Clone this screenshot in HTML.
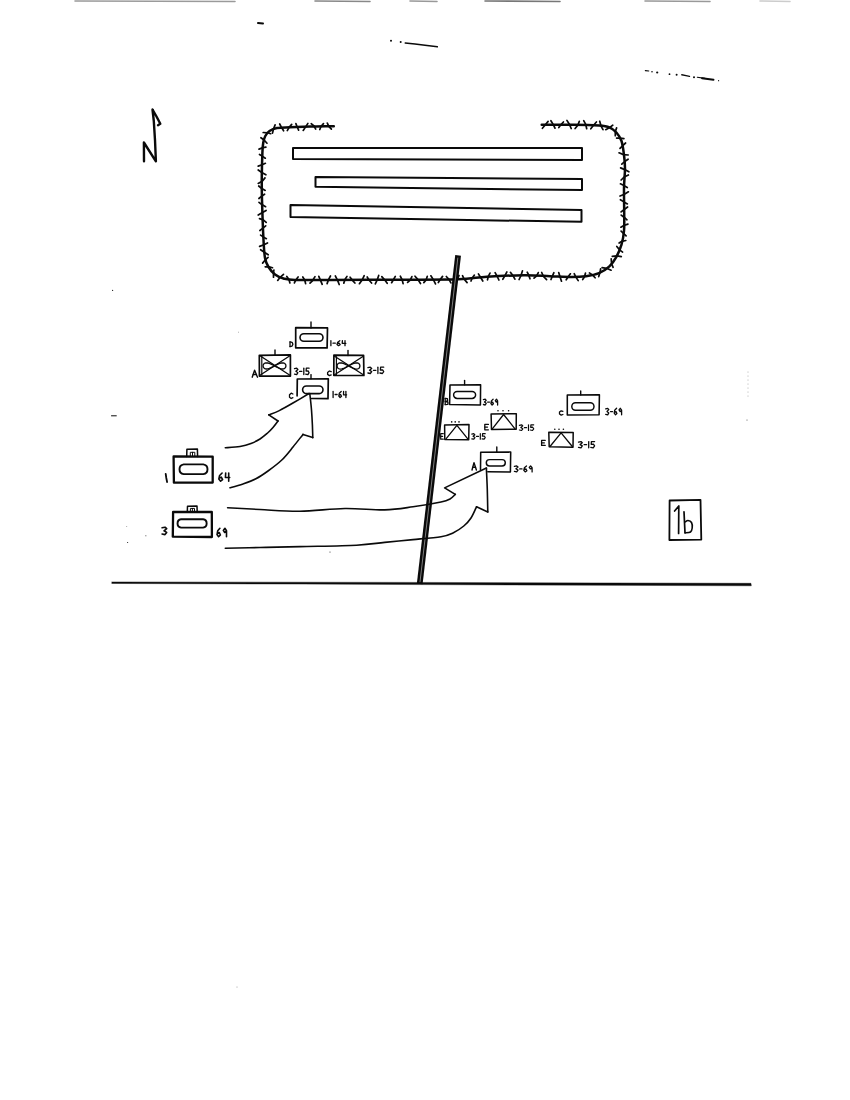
<!DOCTYPE html>
<html><head><meta charset="utf-8"><title>Sketch 1b</title>
<style>
html,body{margin:0;padding:0;background:#fff;}
body{width:850px;height:1100px;overflow:hidden;font-family:"Liberation Sans",sans-serif;}
svg{display:block;}
</style></head><body>
<svg width="850" height="1100" viewBox="0 0 850 1100">
<rect x="0" y="0" width="850" height="1100" fill="#ffffff"/>
<g fill="none" stroke="#0a0a0a" stroke-linecap="round" stroke-linejoin="round">
<path d="M75 1 L235 1.5" stroke="#9a9a9a" stroke-width="1.6"/>
<path d="M315 1 L370 1.5" stroke="#888" stroke-width="1.6"/>
<path d="M410 1 L437 1.5" stroke="#999" stroke-width="1.6"/>
<path d="M485 1 L560 1.5" stroke="#777" stroke-width="1.6"/>
<path d="M645 1 L710 1.5" stroke="#999" stroke-width="1.6"/>
<path d="M760 1 L790 1.5" stroke="#ccc" stroke-width="1.6"/>
<path d="M258 23 L263 23.5" stroke-width="2" />
<path d="M405.2 43 L415 44 L425 45.2 L437.4 46.8" stroke-width="1.4" />
<circle cx="391" cy="40.7" r="1.0" fill="#0a0a0a" stroke="none"/>
<circle cx="400.7" cy="41.9" r="1.0" fill="#0a0a0a" stroke="none"/>
<path d="M645.3 70.6 L648.8 71" stroke-width="1.1" />
<circle cx="652" cy="71.8" r="0.8" fill="#0a0a0a" stroke="none"/>
<circle cx="657.2" cy="72.5" r="1.1" fill="#0a0a0a" stroke="none"/>
<circle cx="669.5" cy="74.2" r="0.9" fill="#0a0a0a" stroke="none"/>
<circle cx="676.6" cy="74.8" r="1.0" fill="#0a0a0a" stroke="none"/>
<circle cx="694" cy="77.3" r="1.0" fill="#0a0a0a" stroke="none"/>
<circle cx="718.6" cy="80.7" r="0.6" fill="#0a0a0a" stroke="none"/>
<path d="M681.8 74.8 L686 75.6 L689.5 76.4" stroke-width="1.4" />
<path d="M697.3 77.2 L705 78.4" stroke-width="1.1" />
<path d="M702 78.2 L713.5 79.8" stroke-width="1.9" />
<circle cx="748" cy="372" r="0.4" fill="#555" stroke="none"/>
<circle cx="748" cy="376" r="0.4" fill="#555" stroke="none"/>
<circle cx="748" cy="380" r="0.4" fill="#555" stroke="none"/>
<circle cx="748" cy="384" r="0.4" fill="#555" stroke="none"/>
<circle cx="748" cy="388" r="0.4" fill="#555" stroke="none"/>
<circle cx="748" cy="392" r="0.4" fill="#555" stroke="none"/>
<circle cx="748" cy="396" r="0.4" fill="#555" stroke="none"/>
<circle cx="747" cy="420" r="0.5" fill="#333" stroke="none"/>
<circle cx="330" cy="552" r="0.6" fill="#333" stroke="none"/>
<circle cx="237" cy="987" r="0.5" fill="#888" stroke="none"/>
<path d="M111.5 415.8 L116.3 415.8" stroke-width="1.0" />
<circle cx="112.6" cy="290.4" r="0.6" fill="#222" stroke="none"/>
<circle cx="238.5" cy="332.1" r="0.4" fill="#222" stroke="none"/>
<circle cx="126.8" cy="526.7" r="0.4" fill="#222" stroke="none"/>
<circle cx="145.9" cy="535.7" r="0.5" fill="#222" stroke="none"/>
<circle cx="127.6" cy="542.5" r="0.6" fill="#222" stroke="none"/>
<path d="M144 161.3 L143.9 142.5 L155.9 161.3 L155 140 L153.8 121 L152.5 109.5 L156.5 116.5 L160.3 123.8 L158 125.2" stroke-width="2.4" />
<path d="M333.8 126.2 C329.8 126.3 317.3 126.4 310 126.6 C302.7 126.8 295.5 127.1 290 127.3 C284.5 127.5 280.4 127.4 277 128 C273.6 128.6 271.4 129.7 269.5 131 C267.6 132.3 266.4 134 265.3 136 C264.2 138 263.7 140.2 263.2 143 C262.7 145.8 262.6 147 262.4 152.5 C262.2 158 261.9 168.1 261.8 176 C261.7 183.9 261.7 189.3 262 200 C262.3 210.7 263 230.3 263.5 240 C264 249.7 264.2 253.5 265 258 C265.8 262.5 266.8 264.2 268.5 267 C270.2 269.8 272.5 272.6 275 274.5 C277.5 276.4 280.2 277.6 283.5 278.5 C286.8 279.4 287.2 279.8 295 280 C302.8 280.2 312.5 280.1 330 280 C347.5 279.9 378.7 279.8 400 279.7 C421.3 279.6 443.5 279.8 458 279.3 C472.5 278.8 476 277.4 487 276.7 C498 276 513.5 275.4 524 275.3 C534.5 275.2 542 275.9 550 276.2 C558 276.5 566 277 572 277 C578 277 581.5 276.8 586 276.2 C590.5 275.6 595.1 274.8 599 273.2 C602.9 271.6 606.5 269 609.4 266.3 C612.3 263.6 614.4 260.4 616.4 256.8 C618.4 253.2 620.2 249 621.5 244.7 C622.8 240.4 623.5 236.3 624 231 C624.5 225.7 624.2 220.2 624.2 213 C624.2 205.8 623.9 195.4 624 188 C624.1 180.6 625 174.2 625 168.7 C625 163.2 624.6 159.6 624 155 C623.4 150.4 622.8 144.8 621.5 141 C620.2 137.2 618.4 134.8 616.4 132.5 C614.4 130.2 612.3 128.5 609.4 127.3 C606.5 126.1 605.1 125.9 599 125.5 C592.9 125.1 582.5 124.8 573 124.7 C563.5 124.6 546.9 124.7 541.7 124.7" stroke-width="2.5" />
<path d="M331.4 129.1 L328.8 126.3 L327.3 123.1" stroke-width="1.7" />
<path d="M323.5 123.6 L321.1 126.3 L319.8 129.5" stroke-width="1.7" />
<path d="M315.7 129.1 L314 126 L311.2 123.7" stroke-width="1.7" />
<path d="M307.9 123.4 L305.8 126.6 L303.2 130.4" stroke-width="1.7" />
<path d="M298.6 130.1 L297 126.5 L295.9 123.6" stroke-width="1.7" />
<path d="M291.7 124.4 L289.1 127.4 L287.3 130.6" stroke-width="1.7" />
<path d="M283.6 130.8 L281.2 126.9 L279.7 124" stroke-width="1.7" />
<path d="M275.1 124.9 L273.6 128.9 L272.5 133.1" stroke-width="1.7" />
<path d="M270.7 133.7 L267.4 132.8 L263.2 132.5" stroke-width="1.7" />
<path d="M260.9 137.7 L264.1 140 L267 143.2" stroke-width="1.7" />
<path d="M265.9 147.1 L263 147.6 L259 149.1" stroke-width="1.7" />
<path d="M259.5 154.5 L262.6 156.4 L265.3 158.2" stroke-width="1.7" />
<path d="M265.4 163.3 L262.1 164.7 L258.2 166.1" stroke-width="1.7" />
<path d="M258.2 170 L261.8 172.5 L265.9 174.8" stroke-width="1.7" />
<path d="M265 177.9 L262.5 181 L258.2 183.4" stroke-width="1.7" />
<path d="M258.7 186 L261.1 188 L265.2 190.4" stroke-width="1.7" />
<path d="M264.6 194.2 L262.3 195.7 L258.9 198.5" stroke-width="1.7" />
<path d="M259 202.3 L261.5 204.3 L265.6 206.7" stroke-width="1.7" />
<path d="M266.1 210.4 L262.9 212.3 L258.2 215.1" stroke-width="1.7" />
<path d="M259.5 218.6 L263.3 219.9 L266.2 222.4" stroke-width="1.7" />
<path d="M265.7 225.8 L262.9 228.2 L259.9 230.5" stroke-width="1.7" />
<path d="M260.6 235.1 L263.2 236.9 L266.4 238.7" stroke-width="1.7" />
<path d="M267.5 242.9 L263.9 244.8 L259.6 246.4" stroke-width="1.7" />
<path d="M260.6 249.7 L264.7 252.5 L268.2 254.8" stroke-width="1.7" />
<path d="M268.1 257.4 L265.6 259.5 L262.6 263.1" stroke-width="1.7" />
<path d="M265.2 266.8 L268.4 266.6 L272.5 267.7" stroke-width="1.7" />
<path d="M273.9 270 L273.5 272.8 L273.5 277.2" stroke-width="1.7" />
<path d="M277.7 280.4 L280.1 277.3 L283.5 274.3" stroke-width="1.7" />
<path d="M286.8 276.5 L289 279.6 L289.9 283" stroke-width="1.7" />
<path d="M294.4 282.9 L296 279.7 L298.1 276.9" stroke-width="1.7" />
<path d="M302.8 277 L304.8 280.2 L305.6 283.6" stroke-width="1.7" />
<path d="M310 283.2 L312.4 280.8 L315 276.6" stroke-width="1.7" />
<path d="M318.8 276.3 L320.2 279.6 L322.2 284.3" stroke-width="1.7" />
<path d="M327.1 283.6 L328.5 279.6 L330.5 276" stroke-width="1.7" />
<path d="M335.3 275.9 L337.6 280.4 L339.2 284.5" stroke-width="1.7" />
<path d="M343.8 283.1 L345.1 279.3 L347 276.4" stroke-width="1.7" />
<path d="M350.1 277.2 L352.7 280.6 L354.9 283" stroke-width="1.7" />
<path d="M359.4 283.7 L362.3 279.7 L364.2 275.7" stroke-width="1.7" />
<path d="M367.2 277 L368.9 280 L371.6 283" stroke-width="1.7" />
<path d="M375.3 283.8 L377.1 280.2 L378.7 275.4" stroke-width="1.7" />
<path d="M381.8 276.6 L384.8 280.1 L387.2 283.3" stroke-width="1.7" />
<path d="M391.6 282.7 L393.1 280.2 L395.3 276.4" stroke-width="1.7" />
<path d="M400.3 276.2 L402.2 280 L403.1 283.6" stroke-width="1.7" />
<path d="M407.6 282.4 L410.2 280.1 L411.9 276.6" stroke-width="1.7" />
<path d="M415 276.2 L417.8 279.4 L420.5 283.5" stroke-width="1.7" />
<path d="M423.8 282.6 L426.1 279.9 L427.3 276.3" stroke-width="1.7" />
<path d="M430.9 275.8 L433.6 280.1 L435.5 283.9" stroke-width="1.7" />
<path d="M438.3 282.5 L440 279.7 L442.6 276.4" stroke-width="1.7" />
<path d="M446.3 276.5 L449 279.3 L450.9 282.9" stroke-width="1.7" />
<path d="M455 282.8 L456.8 279.9 L459 275.5" stroke-width="1.7" />
<path d="M462.5 275.7 L464 278.9 L467.1 282.6" stroke-width="1.7" />
<path d="M471 281 L472.1 278.2 L474.4 275.1" stroke-width="1.7" />
<path d="M478.4 273.9 L480.5 277.3 L482.8 281" stroke-width="1.7" />
<path d="M487.5 279.8 L488.3 276.3 L490 273.1" stroke-width="1.7" />
<path d="M495.1 272.7 L497.3 276.7 L498.9 280" stroke-width="1.7" />
<path d="M502.8 279.3 L504.7 276.1 L506.9 271.9" stroke-width="1.7" />
<path d="M510.4 272.3 L513.1 275.8 L514.9 279.2" stroke-width="1.7" />
<path d="M519.1 279.5 L520.8 276 L522.5 270.8" stroke-width="1.7" />
<path d="M527.2 272.2 L528.5 274.7 L530 278.8" stroke-width="1.7" />
<path d="M534 278.2 L536.4 276.1 L538.3 272.6" stroke-width="1.7" />
<path d="M541.7 272.5 L543.5 276.5 L546.6 279.7" stroke-width="1.7" />
<path d="M551 279.5 L552.3 276.3 L553.9 272.7" stroke-width="1.7" />
<path d="M558.7 272.5 L560 276.7 L561.5 281.2" stroke-width="1.7" />
<path d="M566.2 279.8 L568.5 276.3 L570.4 273.8" stroke-width="1.7" />
<path d="M574.2 273.7 L575.9 277.1 L578.2 280.6" stroke-width="1.7" />
<path d="M582.7 279.5 L584.4 277.1 L585.5 273.1" stroke-width="1.7" />
<path d="M589.4 272.9 L592.5 274.9 L595.1 277.8" stroke-width="1.7" />
<path d="M598.7 276.6 L600 272.6 L600.6 268.9" stroke-width="1.7" />
<path d="M602.1 267.7 L606.6 268.3 L611.1 270.2" stroke-width="1.7" />
<path d="M613.1 267.3 L611.6 263.9 L611.2 258.8" stroke-width="1.7" />
<path d="M612.3 256.4 L617 255.9 L621.3 256.7" stroke-width="1.7" />
<path d="M622.6 252.1 L619.9 250.1 L616.8 246.5" stroke-width="1.7" />
<path d="M619.1 243 L621.9 241.3 L625.8 240.5" stroke-width="1.7" />
<path d="M626.1 235.9 L623.5 233.4 L621.1 231.1" stroke-width="1.7" />
<path d="M620.9 227.2 L623.8 225.5 L627.9 224.1" stroke-width="1.7" />
<path d="M627 219.8 L624.6 217.7 L621.2 215.1" stroke-width="1.7" />
<path d="M621.1 211.9 L623.6 210 L627.6 207" stroke-width="1.7" />
<path d="M627.4 203.9 L623.9 201.9 L620.4 199.7" stroke-width="1.7" />
<path d="M620 196 L624.4 194.3 L628.4 191.8" stroke-width="1.7" />
<path d="M627.3 187.6 L623.4 185.3 L620.4 183.8" stroke-width="1.7" />
<path d="M621.1 180 L624.1 177.1 L628.4 175" stroke-width="1.7" />
<path d="M628.9 171.8 L624.7 169.6 L620.6 167.9" stroke-width="1.7" />
<path d="M621.8 164.2 L624.7 161.5 L628.1 159.2" stroke-width="1.7" />
<path d="M628.2 155 L623.5 154.6 L619 152.8" stroke-width="1.7" />
<path d="M620 148.4 L622.5 145.8 L625.6 143" stroke-width="1.7" />
<path d="M623.9 138.7 L619.8 138.1 L616.6 138.1" stroke-width="1.7" />
<path d="M615.3 135.7 L615.3 131.7 L616.6 127.9" stroke-width="1.7" />
<path d="M612.8 125.2 L609.8 127.5 L605.7 129.7" stroke-width="1.7" />
<path d="M603 129.7 L601.2 126.4 L599.7 121.2" stroke-width="1.7" />
<path d="M596.4 122 L593.1 125.7 L590.8 128.8" stroke-width="1.7" />
<path d="M586.7 128.7 L585.7 124.4 L583.7 120.7" stroke-width="1.7" />
<path d="M579.3 121.4 L577.8 125.2 L575.1 128.5" stroke-width="1.7" />
<path d="M571.2 128.5 L569.4 124.3 L566.9 120.4" stroke-width="1.7" />
<path d="M563.4 122 L560.6 125.1 L558.8 127.6" stroke-width="1.7" />
<path d="M555 128.2 L553.3 124.6 L550.9 120.7" stroke-width="1.7" />
<path d="M548.1 121.4 L545.4 124.7 L542.4 128.3" stroke-width="1.7" />
<path d="M293 148 L582 148 L582 160 L293 159 Z" stroke-width="2.0" />
<path d="M315.5 177 L450 178 L582 179 L582 190 L450 188.5 L315.5 186.8 Z" stroke-width="2.0" />
<path d="M290.5 205 L440 207.5 L581.5 210 L581.5 221.8 L440 219.5 L290.5 217 Z" stroke-width="2.0" />
<path d="M458.1 255.3 L419.7 584" stroke-width="5.8" stroke-linecap="butt"/>
<path d="M457.8 258 L420 582" stroke="#8c8c8c" stroke-width="0.9"/>
<path d="M112 581.9 L300 582.2 L420 582.4 L600 582.9 L751 583.3 L751.3 585.8 L600 585.3 L420 584.6 L300 584.1 L112 583.5 Z" fill="#0a0a0a" stroke-width="0.4"/>
<path d="M669.6 500.5 L700.5 499.8 L701.3 539.6 L669.4 540 Z" stroke-width="1.8" />
<path d="M674.6 511 L678.8 506 L678.6 533.5" stroke-width="1.7" />
<path d="M684 511.8 L685 533" stroke-width="1.7" />
<path d="M685 522 C685.5 521.8 686.9 520.4 688 520.5 C689.1 520.6 690.8 521.2 691.5 522.5 C692.2 523.8 692.4 526.4 692.2 528 C692 529.6 691.7 531.2 690.5 532 C689.3 532.8 686.1 532.7 685.2 532.8" stroke-width="1.6" />
<path d="M295.7 327.7 L327.5 327.9 L327.1 347.9 L295.7 347.8 Z" stroke-width="1.7" />
<path d="M311 322 L311 328" stroke-width="1.4" />
<path d="M303.8 333.7 L319.2 333.7 A3.8 3.8 0 0 1 319.2 341.3 L303.8 341.3 A3.8 3.8 0 0 1 303.8 333.7 Z" stroke-width="1.5999999999999999"/>
<path d="M290 341.8 L290 346.6" stroke-width="1.3" />
<path d="M290 341.8 L292.1 342.3 L292.9 344.2 L292.1 346.1 L290 346.6" stroke-width="1.3" />
<path d="M330.9 340.7 L330.9 345.7" stroke-width="1.3" />
<path d="M333 343.2 L335.3 343.2" stroke-width="1.3" />
<path d="M339.8 340.7 L337.7 342.2 L337 344.4 L338.5 345.7 L340.2 344.7 L339.1 343.2 L337.2 343.9" stroke-width="1.3" />
<path d="M342.4 340.7 L342.2 343.4 L345.8 343.4" stroke-width="1.3" />
<path d="M345 340.7 L345 345.7" stroke-width="1.3" />
<path d="M259.3 355.3 L290.4 354.9 L290.4 376.1 L259.4 376.1 Z" stroke-width="1.7" />
<path d="M261.8 356 L261.8 375" stroke-width="1.2" />
<path d="M275 350 L275 355" stroke-width="1.4" />
<path d="M260 355.8 L289.9 375.2" stroke-width="1.3" />
<path d="M260 375.2 L289.9 355.8" stroke-width="1.3" />
<path d="M274.5 365.9 L276.3 366.9 L278 367.7 L279.7 368.4 L281.2 368.8 L282.6 369 L283.7 368.8 L284.7 368.4 L285.3 367.7 L285.8 366.9 L285.9 365.9 L285.8 364.9 L285.3 364.1 L284.7 363.4 L283.7 363 L282.6 362.8 L281.2 363 L279.7 363.4 L278 364.1 L276.3 364.9 L274.5 365.9 L272.7 366.9 L271 367.7 L269.3 368.4 L267.8 368.8 L266.4 369 L265.3 368.8 L264.3 368.4 L263.7 367.7 L263.2 366.9 L263.1 365.9 L263.2 364.9 L263.7 364.1 L264.3 363.4 L265.3 363 L266.4 362.8 L267.8 363 L269.3 363.4 L271 364.1 L272.7 364.9 L274.5 365.9" stroke-width="1.3"/>
<path d="M252.2 377.2 L254.6 370.2 L257.5 377.2" stroke-width="1.4" />
<path d="M253.3 374.5 L256.4 374.5" stroke-width="1.4" />
<path d="M294.5 368.7 L296.7 368.2 L297.9 369.5 L295.9 371.3 L297.9 372.7 L296.7 374.6 L294.5 374.1" stroke-width="1.3" />
<path d="M299.6 371.4 L301.8 371.4" stroke-width="1.3" />
<path d="M303.8 368.2 L303.8 374.6" stroke-width="1.3" />
<path d="M309.1 368.2 L306.3 368.2 L306.1 371.1 L308.1 370.9 L309.1 372.7 L307.9 374.6 L305.7 374.1" stroke-width="1.3" />
<path d="M333.9 355.2 L363.6 355.4 L363.9 375.5 L333.8 375.3 Z" stroke-width="1.7" />
<path d="M336.4 356.5 L336.4 374.6" stroke-width="1.2" />
<path d="M348 350.5 L348 355.5" stroke-width="1.4" />
<path d="M334.6 356.3 L363.3 374.8" stroke-width="1.3" />
<path d="M334.6 374.8 L363.3 356.3" stroke-width="1.3" />
<path d="M348.5 365.9 L350.3 366.9 L352 367.8 L353.7 368.5 L355.2 368.9 L356.6 369.1 L357.7 368.9 L358.7 368.5 L359.3 367.8 L359.8 366.9 L359.9 365.9 L359.8 365 L359.3 364.1 L358.7 363.4 L357.7 363 L356.6 362.8 L355.2 363 L353.7 363.4 L352 364.1 L350.3 365 L348.5 365.9 L346.7 366.9 L345 367.8 L343.3 368.5 L341.8 368.9 L340.4 369.1 L339.3 368.9 L338.3 368.5 L337.7 367.8 L337.2 366.9 L337.1 365.9 L337.2 365 L337.7 364.1 L338.3 363.4 L339.3 363 L340.4 362.8 L341.8 363 L343.3 363.4 L345 364.1 L346.7 365 L348.5 365.9" stroke-width="1.3"/>
<path d="M331.2 371.7 L329.4 371 L327.6 372.4 L327.6 374.4 L329.4 375.6 L331.2 374.9" stroke-width="1.3" />
<path d="M367.9 367.7 L370.3 367.2 L371.7 368.5 L369.5 370.2 L371.7 371.6 L370.3 373.5 L367.9 373" stroke-width="1.3" />
<path d="M373.4 370.3 L375.9 370.3" stroke-width="1.3" />
<path d="M377.9 367.2 L377.9 373.5" stroke-width="1.3" />
<path d="M383.7 367.2 L380.6 367.2 L380.4 370 L382.6 369.8 L383.7 371.6 L382.4 373.5 L379.9 373" stroke-width="1.3" />
<path d="M311.5 398.5 L328 398.7 L328.3 378.8 L297.3 379 L297.1 395.8" stroke-width="1.7" />
<path d="M311 374.6 L311 378.8" stroke-width="1.4" />
<path d="M306.4 386 L319.2 386 A3.8 3.8 0 0 1 319.2 393.6 L306.4 393.6 A3.8 3.8 0 0 1 306.4 386 Z" stroke-width="1.5999999999999999"/>
<path d="M292.9 394 L291.2 393.2 L289.5 394.8 L289.5 397.2 L291.2 398.5 L292.9 397.7" stroke-width="1.3" />
<path d="M333.1 391.5 L333.1 397.5" stroke-width="1.3" />
<path d="M335.1 394.5 L337.1 394.5" stroke-width="1.3" />
<path d="M341.2 391.5 L339.3 393.3 L338.8 396 L340.1 397.5 L341.5 396.3 L340.6 394.5 L338.9 395.4" stroke-width="1.3" />
<path d="M343.6 391.5 L343.5 394.8 L346.6 394.8" stroke-width="1.3" />
<path d="M345.9 391.5 L345.9 397.5" stroke-width="1.3" />
<path d="M173.6 456.5 L212.7 456.7 L212.7 482.6 L173.9 482.7 Z" stroke-width="2.3" />
<path d="M183.7 464.4 L203.3 464.4 A4.9 4.9 0 0 1 203.3 474.1 L183.7 474.1 A4.9 4.9 0 0 1 183.7 464.4 Z" stroke-width="1.9"/>
<path d="M186.7 456.5 L186.9 449.2 L197.4 449 L197.6 456.5" stroke-width="1.5" />
<path d="M190.3 456 L190.3 452.3 L194.8 452.3 L194.8 456" stroke-width="1.0" />
<path d="M192.5 452.3 L192.5 456" stroke-width="1.0" />
<path d="M165.7 473.8 L166.3 478 L167.1 482" stroke-width="1.8" />
<path d="M222.1 473 L219.6 475.5 L218.8 479.1 L220.6 481.2 L222.6 479.6 L221.3 477.1 L219.1 478.3" stroke-width="1.6" />
<path d="M225.7 473 L225.4 477.5 L229.7 477.5" stroke-width="1.6" />
<path d="M228.7 473 L228.7 481.2" stroke-width="1.6" />
<path d="M173.1 512 L211.8 512 L211.9 537 L172.8 536.7 Z" stroke-width="2.3" />
<path d="M181.1 519.3 L203.1 519.3 A4.2 4.2 0 0 1 203.1 527.6 L181.1 527.6 A4.2 4.2 0 0 1 181.1 519.3 Z" stroke-width="1.9"/>
<path d="M187.3 512 L187.5 506.2 L197 506 L197.2 512" stroke-width="1.5" />
<path d="M190.4 511.6 L190.4 508.4 L194.5 508.4 L194.5 511.6" stroke-width="1.0" />
<path d="M192.4 508.4 L192.4 511.6" stroke-width="1.0" />
<path d="M162.1 527.8 L165 527.2 L166.7 528.7 L164 530.8 L166.7 532.4 L165 534.6 L162.1 534" stroke-width="1.6" />
<path d="M219.9 528.3 L217.7 530.8 L217 534.6 L218.6 536.7 L220.4 535 L219.3 532.5 L217.2 533.8" stroke-width="1.6" />
<path d="M226.5 530.8 L224.9 528.3 L223.3 530.4 L224.7 532.5 L226.5 530.8 L226.5 536.7" stroke-width="1.6" />
<path d="M225.3 447.8 C227.8 447.6 235.7 447.2 240 446.5 C244.3 445.8 247.7 444.8 251 443.5 C254.3 442.2 257.2 440.8 260 439 C262.8 437.2 265.4 434.9 267.6 433 C269.8 431.1 271.3 429.5 273 427.5 C274.7 425.5 277.2 422.1 278 421" stroke-width="1.6" />
<path d="M278 421 L268.8 414.8" stroke-width="1.6" />
<path d="M268.8 414.8 C270.6 414.1 275.2 412.6 279.3 410.6 C283.4 408.6 288.4 405.7 293.4 402.8 C298.3 399.9 306.4 395.1 309 393.5" stroke-width="1.6" />
<path d="M309.8 393.6 C310.1 396.3 311.1 404.8 311.5 410 C311.9 415.2 312.2 420.4 312.4 425 C312.6 429.6 312.7 435.5 312.8 437.6" stroke-width="1.6" />
<path d="M312.8 437.6 L303 434.4" stroke-width="1.6" />
<path d="M303 434.4 C301.3 436.5 296.5 442.7 293 447 C289.5 451.3 286 456 281.8 460 C277.6 464 272.3 467.9 268 471 C263.7 474.1 260.1 476.6 255.9 478.8 C251.7 481 247.3 482.5 243 484 C238.7 485.5 232.2 487.2 230 487.8" stroke-width="1.6" />
<path d="M227.6 507.8 C233 508.1 247.9 508.9 260 509.5 C272.1 510.1 285.8 511.5 300 511.3 C314.2 511.1 330.9 508.7 345 508.5 C359.1 508.3 373.4 510.2 384.7 509.9 C396 509.6 403.6 508.1 413 506.8 C422.4 505.5 434.8 503.3 441 502 C447.2 500.7 447.6 500.3 450 499 C452.4 497.7 454.4 495.2 455.3 494.4" stroke-width="1.6" />
<path d="M455.3 494.4 L444.6 487.9 L486.4 468" stroke-width="1.6" />
<path d="M486.4 468 C486.5 471.7 487.1 482.7 487.3 490 C487.5 497.3 487.7 508.2 487.8 511.9" stroke-width="1.6" />
<path d="M487.8 511.9 L476.5 506.8" stroke-width="1.6" />
<path d="M476.5 506.8 C475.6 508.7 473.1 514.8 471 518 C468.9 521.2 466.8 523.5 463.8 526 C460.8 528.5 456.8 531.2 453 533 C449.2 534.8 447.7 535.6 441 536.7 C434.3 537.8 422.4 538.7 413 539.6 C403.6 540.5 394.1 541.5 384.7 542.4 C375.3 543.3 370.6 544.5 356.5 545.2 C342.4 545.9 316.1 546.2 300 546.6 C283.9 547 272.4 547.2 260 547.5 C247.6 547.8 231.1 548.1 225.3 548.2" stroke-width="1.6" />
<path d="M450 385.1 L480.6 384.7 L480.4 404.9 L449.6 404.6 Z" stroke-width="1.55" />
<path d="M464.6 380.4 L464.6 384.8" stroke-width="1.4" />
<path d="M457.1 391.4 L472.1 391.4 A3.5 3.5 0 0 1 472.1 398.4 L457.1 398.4 A3.5 3.5 0 0 1 457.1 391.4 Z" stroke-width="1.45"/>
<path d="M445.2 398.4 L445.2 404.6" stroke-width="1.3" />
<path d="M445.2 398.4 L447.4 398.7 L447.6 400.9 L445.2 401.5 L447.9 402.1 L447.9 404.3 L445.2 404.6" stroke-width="1.3" />
<path d="M483.4 399.7 L485.2 399.2 L486.2 400.4 L484.5 402 L486.2 403.3 L485.2 405 L483.4 404.5" stroke-width="1.3" />
<path d="M487.6 402.1 L489.5 402.1" stroke-width="1.3" />
<path d="M493.1 399.2 L491.4 400.9 L490.9 403.6 L492.1 405 L493.4 403.8 L492.6 402.1 L491.1 403" stroke-width="1.3" />
<path d="M497.6 400.9 L496.5 399.2 L495.3 400.6 L496.3 402.1 L497.6 400.9 L497.6 405" stroke-width="1.3" />
<path d="M491.1 414 L516.3 413.8 L516.2 429.3 L491.5 429.4 Z" stroke-width="1.5" />
<path d="M492.3 428.8 L503.6 414.5 L515 428.8" stroke-width="1.3" />
<circle cx="498" cy="410.8" r="0.8" fill="#0a0a0a" stroke="none"/>
<circle cx="503" cy="410.8" r="0.8" fill="#0a0a0a" stroke="none"/>
<circle cx="508.6" cy="410.8" r="0.8" fill="#0a0a0a" stroke="none"/>
<path d="M488.4 424.4 L484.8 424.4 L484.8 429.8 L488.4 429.8" stroke-width="1.3" />
<path d="M484.8 427.1 L487.5 427.1" stroke-width="1.3" />
<path d="M519.4 425.3 L521.6 424.8 L522.8 425.9 L520.8 427.5 L522.8 428.8 L521.6 430.5 L519.4 430" stroke-width="1.2" />
<path d="M524.4 427.7 L526.6 427.7" stroke-width="1.2" />
<path d="M528.5 424.8 L528.5 430.5" stroke-width="1.2" />
<path d="M533.7 424.8 L530.9 424.8 L530.7 427.4 L532.7 427.2 L533.7 428.8 L532.5 430.5 L530.3 430" stroke-width="1.2" />
<path d="M444.6 425 L469 424.5 L468.7 439.7 L444.8 439.6 Z" stroke-width="1.5" />
<path d="M445.8 439.2 L456.9 425.3 L468 439.2" stroke-width="1.3" />
<circle cx="451.7" cy="421.9" r="0.8" fill="#0a0a0a" stroke="none"/>
<circle cx="455.2" cy="421.9" r="0.8" fill="#0a0a0a" stroke="none"/>
<circle cx="459" cy="421.9" r="0.8" fill="#0a0a0a" stroke="none"/>
<path d="M443.3 433.7 L440.7 433.7 L440.7 439.2 L443.3 439.2" stroke-width="1.2" />
<path d="M440.7 436.4 L442.6 436.4" stroke-width="1.2" />
<path d="M471.8 434.1 L473.8 433.7 L474.9 434.8 L473.1 436.3 L474.9 437.6 L473.8 439.2 L471.8 438.8" stroke-width="1.2" />
<path d="M476.5 436.4 L478.5 436.4" stroke-width="1.2" />
<path d="M480.3 433.7 L480.3 439.2" stroke-width="1.2" />
<path d="M485.2 433.7 L482.6 433.7 L482.4 436.2 L484.3 436 L485.2 437.6 L484.1 439.2 L482.1 438.8" stroke-width="1.2" />
<path d="M548.8 432.2 L573.2 432.5 L573 447.2 L549.2 446.8 Z" stroke-width="1.5" />
<path d="M550 446.5 L561.1 432.8 L572.3 446.5" stroke-width="1.3" />
<circle cx="554.8" cy="429.3" r="0.8" fill="#0a0a0a" stroke="none"/>
<circle cx="559" cy="429.3" r="0.8" fill="#0a0a0a" stroke="none"/>
<circle cx="563.4" cy="429.3" r="0.8" fill="#0a0a0a" stroke="none"/>
<path d="M545.2 440.4 L541.6 440.4 L541.6 445.4 L545.2 445.4" stroke-width="1.3" />
<path d="M541.6 442.9 L544.3 442.9" stroke-width="1.3" />
<path d="M578.5 442.1 L581 441.6 L582.3 442.8 L580.1 444.6 L582.3 445.9 L581 447.8 L578.5 447.3" stroke-width="1.3" />
<path d="M584.1 444.7 L586.6 444.7" stroke-width="1.3" />
<path d="M588.7 441.6 L588.7 447.8" stroke-width="1.3" />
<path d="M594.6 441.6 L591.4 441.6 L591.2 444.4 L593.4 444.2 L594.6 445.9 L593.2 447.8 L590.8 447.3" stroke-width="1.3" />
<path d="M567.3 395 L599.4 394.8 L599.1 414.7 L567.3 414.9 Z" stroke-width="1.55" />
<path d="M580.7 391 L580.7 394.9" stroke-width="1.4" />
<path d="M575.5 402.8 L590.3 402.8 A3.7 3.7 0 0 1 590.3 410.2 L575.5 410.2 A3.7 3.7 0 0 1 575.5 402.8 Z" stroke-width="1.45"/>
<path d="M562.9 411.4 L561.2 410.8 L559.5 412.1 L559.5 414 L561.2 415.1 L562.9 414.5" stroke-width="1.3" />
<path d="M605.7 408.8 L607.7 408.3 L608.8 409.6 L607 411.4 L608.8 412.9 L607.7 414.8 L605.7 414.3" stroke-width="1.3" />
<path d="M610.5 411.6 L612.5 411.6" stroke-width="1.3" />
<path d="M616.6 408.3 L614.7 410.2 L614.2 413.2 L615.5 414.8 L616.9 413.5 L616 411.6 L614.3 412.5" stroke-width="1.3" />
<path d="M621.6 410.2 L620.3 408.3 L619 409.9 L620.2 411.6 L621.6 410.2 L621.6 414.8" stroke-width="1.3" />
<path d="M487.8 471.8 L510.4 472 L510.7 452 L480.7 452.2 L480.5 469.5" stroke-width="1.55" />
<path d="M496.8 447 L496.8 452" stroke-width="1.4" />
<path d="M489.5 459.6 L502.1 459.6 A3.2 3.2 0 0 1 502.1 466 L489.5 466 A3.2 3.2 0 0 1 489.5 459.6 Z" stroke-width="1.45"/>
<path d="M472 470 L474 462.6 L476.4 470" stroke-width="1.4" />
<path d="M472.9 467.2 L475.5 467.2" stroke-width="1.4" />
<path d="M514.4 466.4 L516.7 465.9 L518 467.1 L515.9 468.8 L518 470.1 L516.7 471.9 L514.4 471.4" stroke-width="1.3" />
<path d="M519.7 468.9 L522 468.9" stroke-width="1.3" />
<path d="M526.5 465.9 L524.4 467.7 L523.8 470.4 L525.2 471.9 L526.9 470.7 L525.9 468.9 L524 469.8" stroke-width="1.3" />
<path d="M532.1 467.7 L530.6 465.9 L529.2 467.4 L530.4 468.9 L532.1 467.7 L532.1 471.9" stroke-width="1.3" />
</g>
</svg>
</body></html>
